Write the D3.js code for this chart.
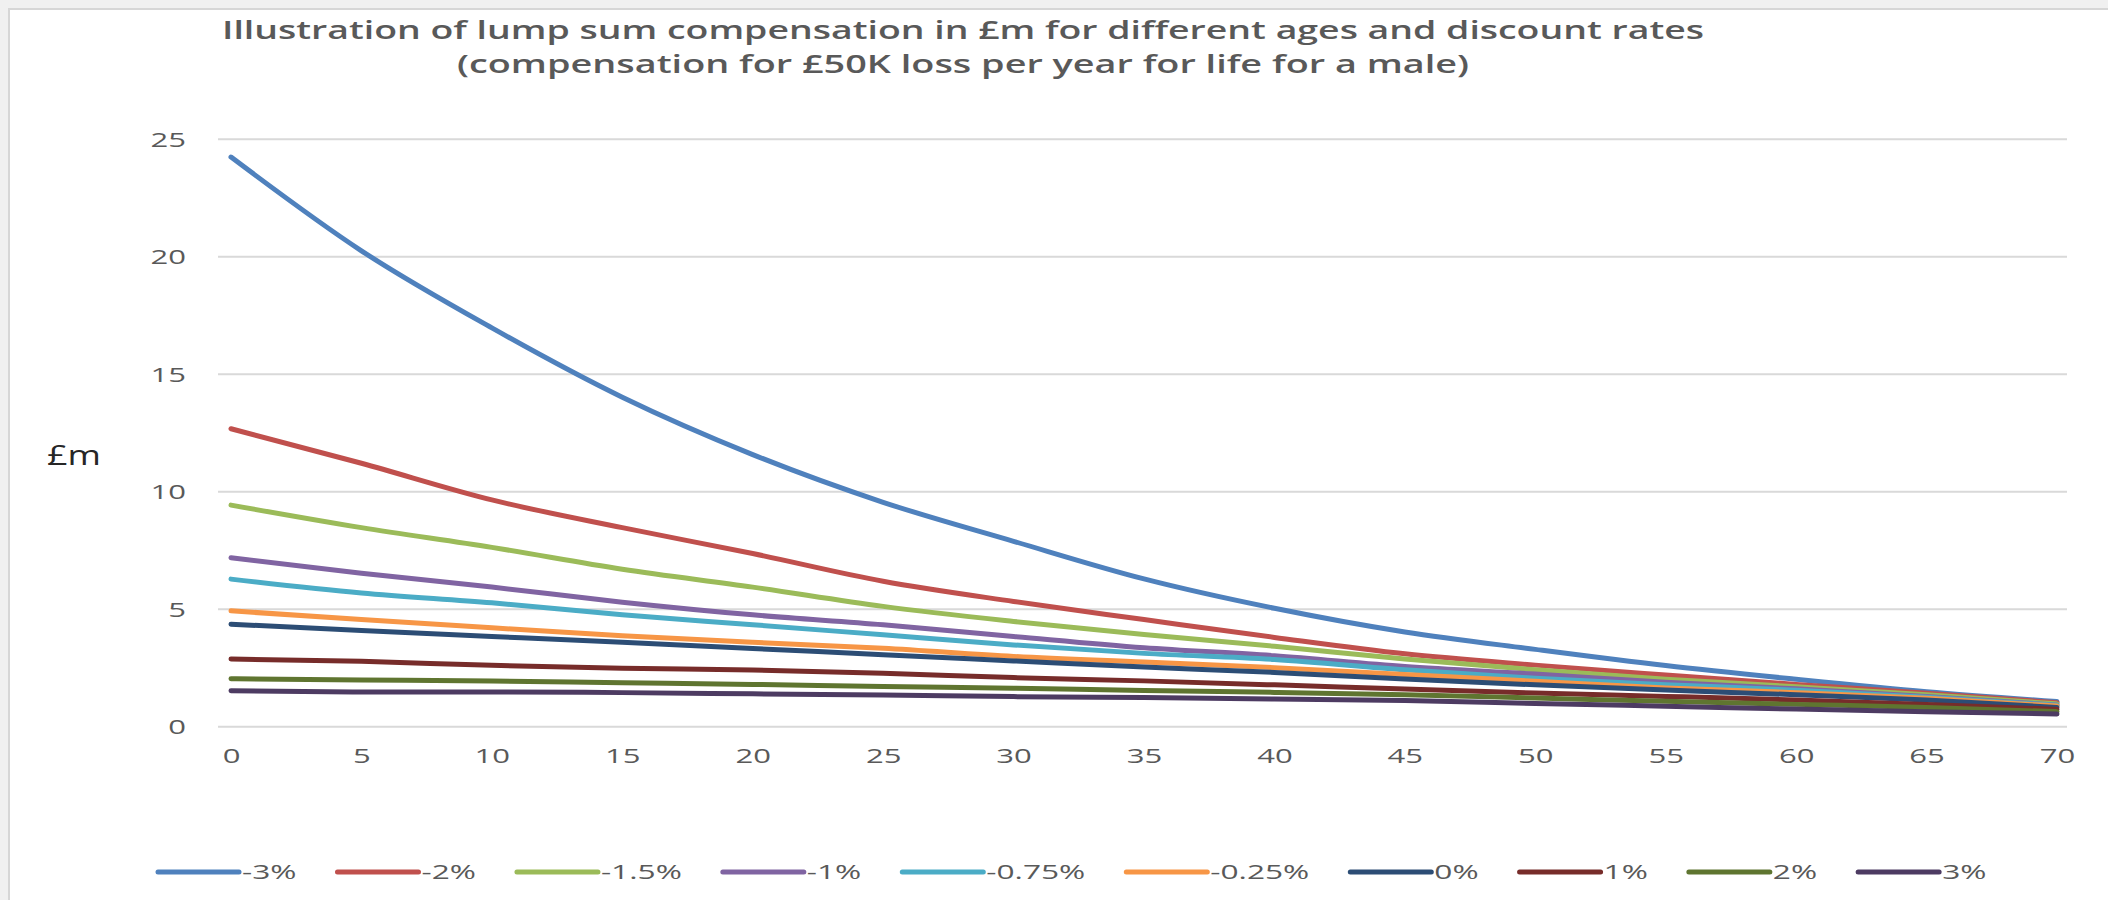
<!DOCTYPE html>
<html>
<head>
<meta charset="utf-8">
<script src="https://cdn.jsdelivr.net/npm/d3@7"></script>
<style>
  html, body { margin: 0; padding: 0; background: #f0f0f0; }
  svg { display: block; }
  text { font-family: "Open Sans", "Liberation Sans", sans-serif; }
</style>
</head>
<body>
<svg id="chart" width="2108" height="900"></svg>
<script>
// ---- data ----
const ages = [0, 5, 10, 15, 20, 25, 30, 35, 40, 45, 50, 55, 60, 65, 70];
const xTickLabels = [0, 5, 10, 15, 20, 25, 30, 35, 40, 45, 50, 55, 60, 65, 70];
const yTickLabels = [0, 5, 10, 15, 20, 25];
const seriesNames = ["-3%", "-2%", "-1.5%", "-1%", "-0.75%", "-0.25%", "0%", "1%", "2%", "3%"];
const seriesColors = ["#4F81BD", "#C0504D", "#9BBB59", "#8064A2", "#4BACC6", "#F79646", "#2C4D75", "#772C2A", "#5F7530", "#4D3B62"];

const rateM3   = [24.24, 20.25, 16.97, 14.02, 11.58, 9.55, 7.89, 6.29, 5.04, 4.03, 3.29, 2.60, 2.02, 1.49, 1.07];
const rateM2   = [12.68, 11.21, 9.65, 8.47, 7.37, 6.19, 5.33, 4.56, 3.80, 3.10, 2.62, 2.20, 1.80, 1.42, 1.02];
const rateM15  = [9.43, 8.47, 7.63, 6.70, 5.94, 5.12, 4.48, 3.92, 3.42, 2.88, 2.42, 2.02, 1.70, 1.36, 0.97];
const rateM1   = [7.19, 6.53, 5.94, 5.30, 4.76, 4.34, 3.84, 3.36, 3.02, 2.56, 2.24, 1.89, 1.61, 1.28, 0.92];
const rateM075 = [6.28, 5.69, 5.27, 4.76, 4.34, 3.91, 3.48, 3.12, 2.86, 2.42, 2.06, 1.79, 1.55, 1.25, 0.91];
const rateM025 = [4.93, 4.56, 4.21, 3.87, 3.59, 3.34, 2.99, 2.75, 2.51, 2.22, 1.93, 1.65, 1.45, 1.21, 0.88];
const rate0    = [4.36, 4.09, 3.84, 3.59, 3.33, 3.06, 2.80, 2.54, 2.31, 2.03, 1.78, 1.56, 1.36, 1.14, 0.82];
const rateP1   = [2.88, 2.78, 2.61, 2.49, 2.41, 2.27, 2.09, 1.95, 1.78, 1.60, 1.43, 1.29, 1.14, 0.95, 0.74];
const rateP2   = [2.04, 1.99, 1.94, 1.87, 1.80, 1.71, 1.64, 1.54, 1.46, 1.36, 1.22, 1.08, 0.95, 0.82, 0.64];
const rateP3   = [1.53, 1.48, 1.48, 1.45, 1.40, 1.35, 1.28, 1.24, 1.18, 1.12, 0.99, 0.87, 0.75, 0.64, 0.54];
const seriesValues = [rateM3, rateM2, rateM15, rateM1, rateM075, rateM025, rate0, rateP1, rateP2, rateP3];

const titleLine1 = "Illustration of lump sum compensation in £m for different ages and discount rates";
const titleLine2 = "(compensation for £50K loss per year for life for a male)";
const yAxisTitle = "£m";

// ---- layout ----
const svg = d3.select("#chart");
const W = 2108, H = 900;
const plot = { left: 218, right: 2067, top: 139.2, bottom: 726.7 };
const x = d3.scaleLinear().domain([0, 70]).range([231, 2057]);
const y = d3.scaleLinear().domain([0, 25]).range([plot.bottom, plot.top]);
const textGrey = "#595959";

function stretch(sel, k) {
  sel.each(function () {
    const w = this.getComputedTextLength();
    this.setAttribute("textLength", w * k);
    this.setAttribute("lengthAdjust", "spacingAndGlyphs");
  });
}

// background frame
svg.append("rect").attr("x", 0).attr("y", 0).attr("width", W).attr("height", H).attr("fill", "#f0f0f0");
svg.append("rect").attr("x", 9).attr("y", 9).attr("width", W + 20).attr("height", H + 20)
  .attr("fill", "#ffffff").attr("stroke", "#d6d6d6").attr("stroke-width", 2);

// title
svg.append("text").attr("x", 963).attr("y", 39).attr("text-anchor", "middle")
  .attr("font-size", 25).attr("font-weight", 600).attr("fill", textGrey)
  .attr("textLength", 1482).attr("lengthAdjust", "spacingAndGlyphs").text(titleLine1);
svg.append("text").attr("x", 963).attr("y", 73).attr("text-anchor", "middle")
  .attr("font-size", 25).attr("font-weight", 600).attr("fill", textGrey)
  .attr("textLength", 1012).attr("lengthAdjust", "spacingAndGlyphs").text(titleLine2);

// y axis title
svg.append("text").attr("x", 74).attr("y", 465).attr("text-anchor", "middle")
  .attr("font-size", 28).attr("fill", "#262626")
  .attr("textLength", 54).attr("lengthAdjust", "spacingAndGlyphs").text(yAxisTitle);

// gridlines
svg.append("g").selectAll("line").data(yTickLabels).join("line")
  .attr("x1", plot.left).attr("x2", plot.right)
  .attr("y1", d => y(d)).attr("y2", d => y(d))
  .attr("stroke", "#d9d9d9").attr("stroke-width", 2);

// measure factor for tick text
const probe = svg.append("text").attr("font-size", 20).text("10");
const tickK = 35.5 / probe.node().getComputedTextLength();
probe.remove();

// y axis labels via d3 axis
const yAxis = svg.append("g").attr("transform", "translate(186,0)")
  .call(d3.axisLeft(y).tickValues(yTickLabels).tickSize(0).tickPadding(0).tickFormat(d3.format("d")));
yAxis.select(".domain").remove();
yAxis.selectAll("text").attr("font-size", 20).attr("fill", textGrey)
  .attr("font-family", "'Open Sans', sans-serif").attr("dy", "0.36em").attr("x", 0);
stretch(yAxis.selectAll("text"), tickK);

// x axis labels via d3 axis
const xAxis = svg.append("g").attr("transform", "translate(0,763)")
  .call(d3.axisBottom(x).tickValues(xTickLabels).tickSize(0).tickPadding(0).tickFormat(d3.format("d")));
xAxis.select(".domain").remove();
xAxis.selectAll("text").attr("font-size", 20).attr("fill", textGrey)
  .attr("font-family", "'Open Sans', sans-serif").attr("dy", 0).attr("y", 0);
stretch(xAxis.selectAll("text"), tickK);

// series lines
const line = d3.line().x((d, i) => x(ages[i])).y(d => y(d)).curve(d3.curveMonotoneX);
svg.append("g").selectAll("path").data(seriesValues).join("path")
  .attr("d", d => line(d))
  .attr("fill", "none")
  .attr("stroke", (d, i) => seriesColors[i])
  .attr("stroke-width", 5)
  .attr("stroke-linecap", "round")
  .attr("stroke-linejoin", "round");

// legend
const probe2 = svg.append("text").attr("font-size", 20).text("-0.25%");
const legK = 99 / probe2.node().getComputedTextLength();
probe2.remove();
const legend = svg.append("g");
let lx = 158;
seriesNames.forEach((name, i) => {
  legend.append("line").attr("x1", lx).attr("x2", lx + 81).attr("y1", 872).attr("y2", 872)
    .attr("stroke", seriesColors[i]).attr("stroke-width", 5).attr("stroke-linecap", "round");
  const t = legend.append("text").attr("x", lx + 84).attr("y", 879)
    .attr("font-size", 20).attr("fill", textGrey).text(name);
  const w = t.node().getComputedTextLength() * legK;
  t.attr("textLength", w).attr("lengthAdjust", "spacingAndGlyphs");
  lx += 84 + w + 41;
});
</script>
</body>
</html>
